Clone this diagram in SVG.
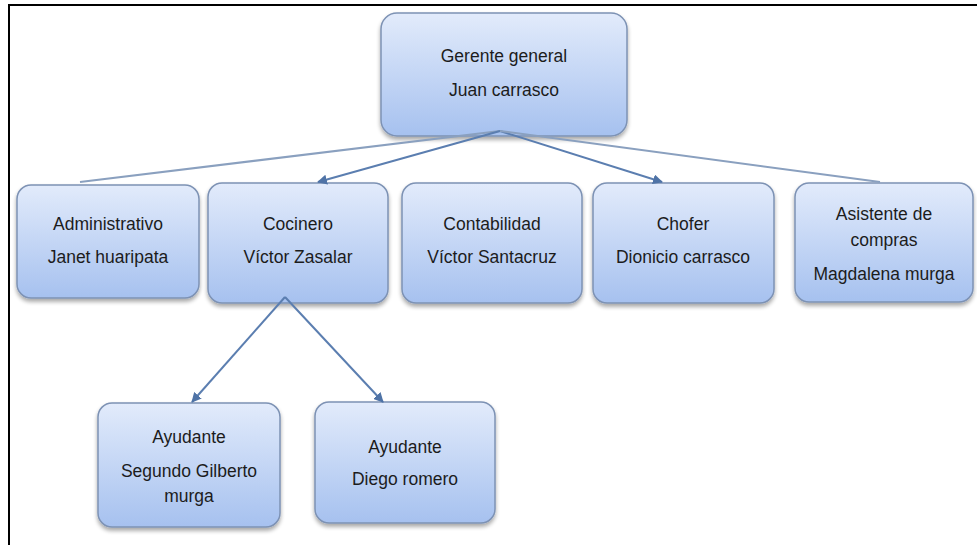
<svg xmlns="http://www.w3.org/2000/svg" width="977" height="545" viewBox="0 0 977 545">
<defs>
<linearGradient id="g" x1="0" y1="0" x2="0" y2="1">
<stop offset="0" stop-color="#e2ebfb"/>
<stop offset="1" stop-color="#a6c1ef"/>
</linearGradient>
<filter id="sh" x="-10%" y="-10%" width="120%" height="130%">
<feGaussianBlur in="SourceAlpha" stdDeviation="2"/>
<feOffset dx="0" dy="3"/>
<feComponentTransfer><feFuncA type="linear" slope="0.35"/></feComponentTransfer>
<feMerge><feMergeNode/><feMergeNode in="SourceGraphic"/></feMerge>
</filter>
<marker id="ah" viewBox="0 0 10 10" refX="9" refY="5" markerWidth="5" markerHeight="5" orient="auto">
<path d="M0,0 L10,5 L0,10 z" fill="#4f73a6"/>
</marker>
</defs>
<style>
.n{fill:url(#g);stroke:#7d92b4;stroke-width:1.5;filter:url(#sh)}
.t{font-family:"Liberation Sans",Arial,sans-serif;font-size:17.5px;fill:#1c1c1c;text-anchor:middle}
.c{stroke:#5b7eb0;stroke-width:2;fill:none}
.cl{stroke:#8aa0bf;stroke-width:2;fill:none}
</style>
<rect width="977" height="545" fill="#fff"/>
<path d="M9,545 L9,5 L977,5" fill="none" stroke="#000" stroke-width="2"/>
<g id="gerente">
<rect class="n" x="381" y="13" width="246" height="123" rx="16"/>
<text class="t" x="504" y="62">Gerente general</text>
<text class="t" x="504" y="96">Juan carrasco</text>
</g>
<g id="administrativo">
<rect class="n" x="17" y="185" width="182" height="113" rx="14"/>
<text class="t" x="108" y="230">Administrativo</text>
<text class="t" x="108" y="263">Janet huaripata</text>
</g>
<g id="cocinero">
<rect class="n" x="208" y="183" width="180" height="120" rx="14"/>
<text class="t" x="298" y="230">Cocinero</text>
<text class="t" x="298" y="263">Víctor Zasalar</text>
</g>
<g id="contabilidad">
<rect class="n" x="402" y="183" width="180" height="120" rx="14"/>
<text class="t" x="492" y="230">Contabilidad</text>
<text class="t" x="492" y="263">Víctor Santacruz</text>
</g>
<g id="chofer">
<rect class="n" x="593" y="183" width="181" height="120" rx="14"/>
<text class="t" x="683" y="230">Chofer</text>
<text class="t" x="683" y="263">Dionicio carrasco</text>
</g>
<g id="asistente">
<rect class="n" x="795" y="183" width="178" height="119" rx="14"/>
<text class="t" x="884" y="220">Asistente de</text>
<text class="t" x="884" y="246">compras</text>
<text class="t" x="884" y="280">Magdalena murga</text>
</g>
<g id="ayudante1">
<rect class="n" x="98" y="403" width="182" height="124" rx="14"/>
<text class="t" x="189" y="443">Ayudante</text>
<text class="t" x="189" y="477">Segundo Gilberto</text>
<text class="t" x="189" y="502">murga</text>
</g>
<g id="ayudante2">
<rect class="n" x="315" y="402" width="180" height="121" rx="14"/>
<text class="t" x="405" y="453">Ayudante</text>
<text class="t" x="405" y="485">Diego romero</text>
</g>
<g id="connectors">
<line class="cl" x1="500" y1="131" x2="80" y2="182"/>
<line class="c" x1="500" y1="131" x2="318" y2="182" marker-end="url(#ah)"/>
<line class="c" x1="500" y1="131" x2="662" y2="182" marker-end="url(#ah)"/>
<line class="cl" x1="500" y1="131" x2="880" y2="182"/>
<line class="c" x1="285" y1="297" x2="192" y2="402" marker-end="url(#ah)"/>
<line class="c" x1="285" y1="297" x2="383" y2="402" marker-end="url(#ah)"/>
</g>
</svg>
